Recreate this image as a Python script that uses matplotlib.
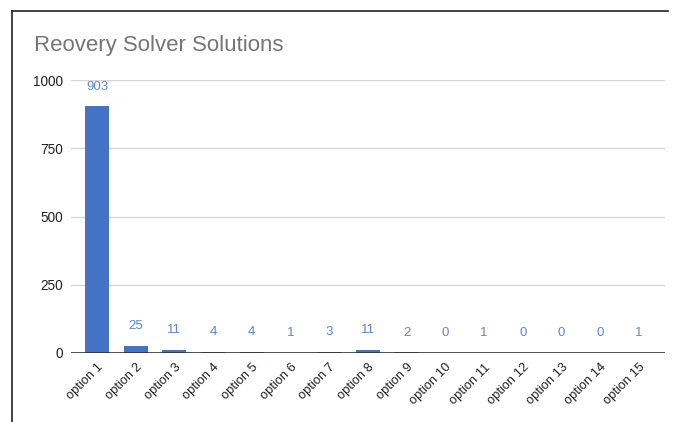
import matplotlib
matplotlib.use("Agg")
import matplotlib.pyplot as plt
from matplotlib.lines import Line2D

plt.rcParams['font.family'] = ['Liberation Sans', 'DejaVu Sans']

categories = [f"option {i}" for i in range(1, 16)]
counts = [903, 25, 11, 4, 4, 1, 3, 11, 2, 0, 1, 0, 0, 0, 1]
yticks = [0, 250, 500, 750, 1000]
title = "Reovery Solver Solutions"

bar_color = "#4472c4"
label_color = "#5b87d1"

fig = plt.figure(figsize=(6.73, 4.22), dpi=100)
ax = fig.add_axes([71 / 673, 1 - 353 / 422, (665 - 71) / 673, (353 - 80) / 422])

x = list(range(len(categories)))
ax.bar(x, counts, width=0.62, color=bar_color, zorder=3)

for xi, v in zip(x, counts):
    ax.annotate(str(v), (xi, v), xytext=(0, 10), textcoords="offset points",
                ha="center", va="bottom", fontsize=9.5, color=label_color)

ax.set_xlim(-0.67, len(categories) - 1 + 0.67)
ax.set_ylim(0, 1000)
ax.set_yticks(yticks)
ax.set_yticklabels([str(t) for t in yticks], fontsize=9.8, color="#222222")
ax.set_xticks(x)
ax.set_xticklabels(categories, rotation=45, ha="right", rotation_mode="anchor",
                   fontsize=9.3, color="#222222")
ax.tick_params(axis="both", length=0)
ax.tick_params(axis="y", pad=6)
ax.tick_params(axis="x", pad=6)

ax.grid(axis="y", color="#d6d6d6", linewidth=1.0, zorder=0)
ax.axhline(0, color="#333333", linewidth=1.2, zorder=4)
for s in ax.spines.values():
    s.set_visible(False)

fig.text(34 / 673, 1 - 46 / 422, title, fontsize=16, color="#757575",
         ha="left", va="center")

# outer card edges
fig.add_artist(Line2D([12 / 673, 668 / 673], [1 - 11 / 422, 1 - 11 / 422],
                      color="#222222", linewidth=1.2, transform=fig.transFigure))
fig.add_artist(Line2D([12 / 673, 12 / 673], [1 - 11 / 422, 0],
                      color="#222222", linewidth=1.2, transform=fig.transFigure))

fig.savefig("out.png", dpi=100)
